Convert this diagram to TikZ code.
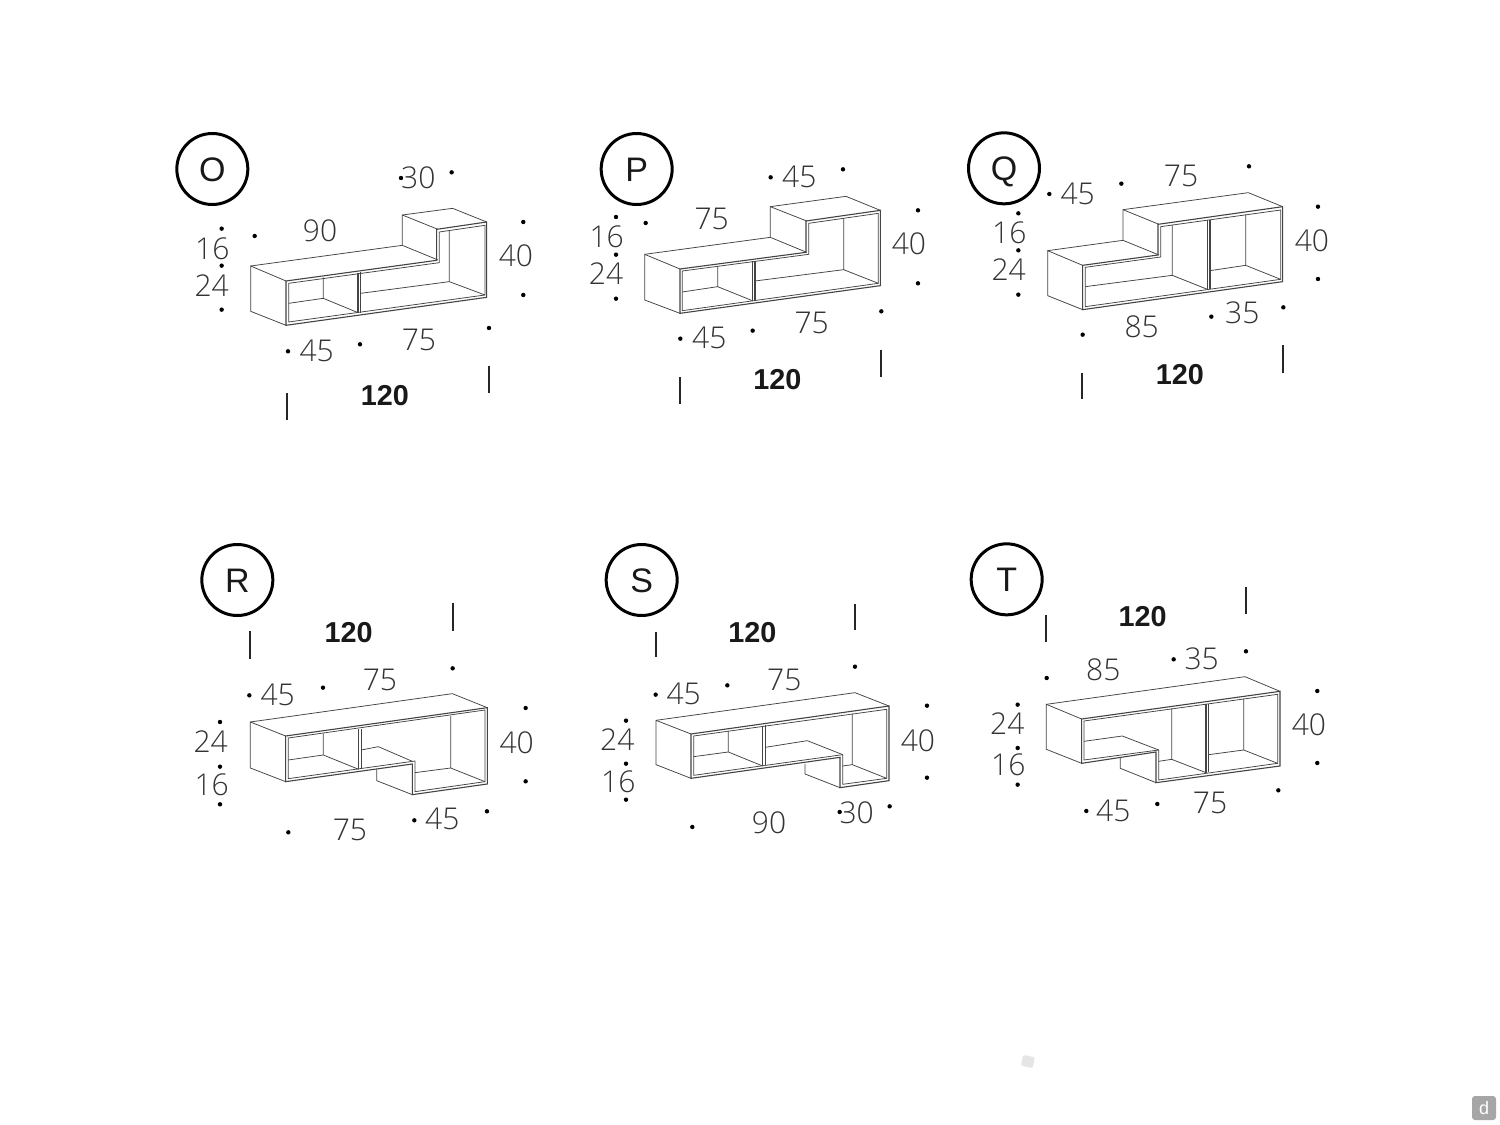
\documentclass[tikz,border=0pt]{standalone}
\usepackage{fontspec}
\setmainfont{Liberation Sans}
\newfontfamily\thinfont{Open Sans Light}
\definecolor{ink}{HTML}{444444}
\definecolor{num}{HTML}{333333}
\newcounter{lbl}
\tikzset{
  zm/.style 2 args={x=1pt/6,y=-1pt/6,shift={(#1*0.5pt,-#2*0.5pt)}},
  edge/.style={draw=ink,line width=0.38pt,line join=miter},
  front/.style={draw=ink,line width=0.55pt,line join=miter},
  dim/.style={font=\thinfont\fontsize{15}{16}\selectfont,text=num,inner sep=0pt},
  total/.style={font=\fontsize{14.4}{17}\selectfont\bfseries,text=black!90,inner sep=0pt},
  letter/.style={circle,draw=black,line width=1.5pt,minimum size=35.5pt,inner sep=0pt,text=black!90,text height=12pt,text depth=0pt,font=\fontsize{17}{19}\selectfont},
  tickmark/.style={draw=black!85,line width=0.9pt},
  spot/.style={circle,fill=black,inner sep=0pt,minimum size=2.2pt}
}
\newcommand\lab[2]{\stepcounter{lbl}\node[dim] (d\arabic{lbl}) at (#1) {#2};}
\newcommand\tot[1]{\stepcounter{lbl}\node[total] (t\arabic{lbl}) at (#1) {120};}
\newcommand\spots[1]{\foreach \a/\b in {#1}{\stepcounter{lbl}\node[spot] (s\arabic{lbl}) at (\a,\b) {};}}
\begin{document}
\begin{tikzpicture}[x=0.5pt,y=-0.5pt]
\useasboundingbox (0,0) rectangle (1500,1125);
\fill[white] (0,0) rectangle (1500,1125);

% ---------- O
\begin{scope}[zm={170}{120}]
\node[letter] (circO) at (127,147) {O};
\path[edge] (348,483)--(242,438)--(242,574)--(348,616);
\path[edge] (242,438)--(697,376)--(697,285)--(848,265)--(950,306);
\path[edge] (697,376)--(804,420) (697,285)--(804,328);
\path[front] (348,483)--(800,421)--(800,328)--(950,306)--(950,532)--(348,616)--cycle;
\path[edge] (356,490)--(808,428)--(808,336)--(945,316)--(945,525)--(356,606)--cycle;
\path[front] (564,458)--(564,580) (572,457)--(572,579);
\path[edge] (838,331)--(838,485) (838,485)--(572,520) (838,485)--(945,525);
\path[edge] (460,472)--(460,535) (356,550)--(460,535) (460,535)--(564,578);
\lab{450,333}{90}\lab{745,172}{30}\lab{127,385}{16}\lab{125,497}{24}\lab{1038,407}{40}\lab{747,659}{75}\lab{440,693}{45}
\tot{645,827}
\spots{693/174,845/157,155/326,254/348,155/437,155/569,1060/306,1060/525,957/624,570/673,354/694}
\draw[tickmark] (351,820)--(351,900) (957,738)--(957,820);
\end{scope}

% ---------- P
\begin{scope}[zm={580}{120}]
\node[letter] (circP) at (170,147) {P};
\path[edge] (300,447)--(194,403)--(194,540)--(300,580);
\path[edge] (194,403)--(571,352)--(571,260)--(798,229)--(901,271);
\path[edge] (571,352)--(680,397) (571,260)--(680,303);
\path[front] (300,447)--(678,397)--(678,303)--(901,271)--(901,497)--(300,580)--cycle;
\path[edge] (307,453)--(686,403)--(686,310)--(895,280)--(895,490)--(307,572)--cycle;
\path[front] (517,424)--(517,542) (525,423)--(525,541);
\path[edge] (791,295)--(791,449) (791,449)--(525,483) (791,449)--(895,490);
\path[edge] (413,438)--(413,500) (307,516)--(413,500) (413,500)--(517,542);
\lab{658,170}{45}\lab{395,297}{75}\lab{80,349}{16}\lab{78,461}{24}\lab{987,372}{40}\lab{695,610}{75}\lab{388,653}{45}
\tot{592,780}
\spots{572/172,789/148,108/291,197/309,108/404,108/536,1014/271,1014/490,904/574,518/632,301/656}
\draw[tickmark] (299,772)--(299,852) (904,690)--(904,770);
\end{scope}

% ---------- Q
\begin{scope}[zm={960}{120}]
\node[letter] (circQ) at (132,145) {Q};
\path[edge] (368,436)--(263,392)--(263,527)--(368,569);
\path[edge] (263,392)--(489,361)--(489,269)--(865,218)--(968,260);
\path[edge] (489,361)--(597,405) (489,269)--(597,313);
\path[front] (368,436)--(594,405)--(594,313)--(968,260)--(968,485)--(368,569)--cycle;
\path[edge] (376,442)--(602,411)--(602,320)--(962,270)--(962,478)--(376,560)--cycle;
\path[edge] (637,315)--(637,466) (637,466)--(376,500) (637,466)--(742,508);
\path[front] (742,300)--(742,508) (750,299)--(750,506);
\path[edge] (857,284)--(857,436) (857,436)--(750,452) (857,436)--(962,478);
\lab{353,222}{45}\lab{663,168}{75}\lab{148,338}{16}\lab{146,450}{24}\lab{1056,361}{40}\lab{545,620}{85}\lab{847,578}{35}
\tot{660,765}
\spots{268/222,484/191,867/139,175/280,175/391,175/524,1074/260,1074/477,970/562,754/590,368/644}
\draw[tickmark] (367,758)--(367,838) (970,676)--(970,758);
\end{scope}

% ---------- R
\begin{scope}[zm={180}{540}]
\node[letter] (circR) at (172,120) {R};
\path[edge] (317,588)--(211,546)--(211,684)--(317,725);
\path[edge] (211,546)--(817,461)--(922,503);
\path[front] (317,588)--(922,503)--(922,732)--(697,764)--(697,672)--(317,725)--cycle;
\path[edge] (325,594)--(915,510)--(915,725)--(705,755)--(705,663)--(325,716)--cycle;
\path[edge] (590,688)--(590,722)--(697,764);
\path[front] (536,568)--(536,688) (544,566)--(544,686);
\path[edge] (430,580)--(430,645) (325,660)--(430,645) (430,645)--(536,688);
\path[edge] (544,630)--(595,620)--(697,664);
\path[edge] (812,528)--(812,684) (812,684)--(705,698) (812,684)--(915,725);
\lab{293,466}{45}\lab{600,421}{75}\lab{92,605}{24}\lab{95,733}{16}\lab{1010,607}{40}\lab{510,870}{75}\lab{787,836}{45}
\tot{506,278}
\spots{208/466,429/443,818/385,120/546,120/680,120/793,1037/504,1037/724,921/814,703/841,325/877}
\draw[tickmark] (209,272)--(209,356) (819,188)--(819,272);
\end{scope}

% ---------- S
\begin{scope}[zm={590}{540}]
\node[letter] (circS) at (155,120) {S};
\path[edge] (303,582)--(198,541)--(198,674)--(303,715);
\path[edge] (198,541)--(795,458)--(897,498);
\path[front] (303,582)--(897,498)--(897,722)--(750,743)--(750,652)--(303,715)--cycle;
\path[edge] (311,588)--(890,508)--(890,715)--(758,733)--(758,644)--(311,706)--cycle;
\path[edge] (645,672)--(645,702)--(750,743);
\path[front] (518,558)--(518,678) (526,556)--(526,676);
\path[edge] (415,573)--(415,636) (311,650)--(415,636) (415,636)--(518,678);
\path[edge] (526,622)--(652,602)--(758,644);
\path[edge] (787,522)--(787,674) (787,674)--(758,678) (787,674)--(890,715);
\lab{281,463}{45}\lab{583,420}{75}\lab{82,600}{24}\lab{85,724}{16}\lab{984,601}{40}\lab{537,847}{90}\lab{800,817}{30}
\tot{487,278}
\spots{197/464,412/436,795/380,108/542,108/671,108/779,1011/497,1011/713,899/799,749/816,307/861}
\draw[tickmark] (198,275)--(198,352) (795,192)--(795,270);
\end{scope}

% ---------- T
\begin{scope}[zm={960}{540}]
\node[letter] (circT) at (140,118) {T};
\path[edge] (365,537)--(259,493)--(259,628)--(365,670);
\path[edge] (259,493)--(855,410)--(960,454);
\path[front] (365,537)--(960,454)--(960,678)--(588,728)--(588,636)--(365,670)--cycle;
\path[edge] (372,543)--(953,463)--(953,670)--(596,720)--(596,630)--(372,660)--cycle;
\path[edge] (481,652)--(481,685)--(588,728);
\path[edge] (372,604)--(487,588)--(596,630);
\path[edge] (635,505)--(635,658) (635,658)--(596,664) (635,658)--(738,698);
\path[front] (738,492)--(738,698) (746,491)--(746,697);
\path[edge] (851,476)--(851,630) (851,630)--(746,644) (851,630)--(953,670);
\lab{430,390}{85}\lab{725,357}{35}\lab{142,551}{24}\lab{145,675}{16}\lab{1047,553}{40}\lab{460,813}{45}\lab{750,790}{75}
\tot{548,230}
\spots{260/414,641/358,858/334,173/494,173/624,173/734,1072/453,1072/669,955/751,592/792,379/813}
\draw[tickmark] (259,225)--(259,305) (857,142)--(857,222);
\end{scope}

% ---------- smudge and corner mark
\fill[black!10,rounded corners=1pt,rotate around={-12:(1028,1061)}] (1022,1056) rectangle (1034,1067);
\node[fill=black!35,rounded corners=1.5pt,minimum size=12pt,inner sep=0pt,text=white,font=\fontsize{9}{10}\selectfont] (mark) at (1484,1108) {d};
\end{tikzpicture}
\end{document}
